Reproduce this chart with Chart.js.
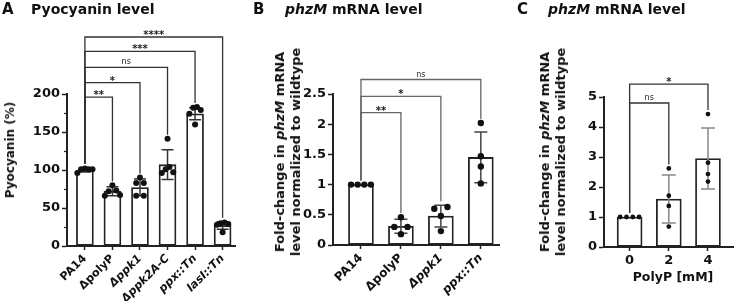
<!DOCTYPE html>
<html>
<head>
<meta charset="utf-8">
<script src="https://cdn.jsdelivr.net/npm/chart.js@4.4.0/dist/chart.umd.min.js"></script>
<style>
    html, body { margin: 0; padding: 0; background: #fff; }
    #wrap { position: relative; width: 736px; height: 301px; overflow: hidden; font-family: 'DejaVu Sans', sans-serif; color: #111; }
    canvas { position: absolute; top: 0; }
    .ttl { position: absolute; top: 1px; font-weight: bold; font-size: 14px; line-height: 16px; white-space: nowrap; }
    .letter { font-size: 15px; }
    .ylab { position: absolute; font-weight: bold; font-size: 13px; line-height: 16px; white-space: nowrap; text-align: center; transform: translate(-50%, -50%) rotate(-90deg); }
    .xlab { position: absolute; font-weight: bold; font-size: 12.5px; line-height: 16px; white-space: nowrap; transform: translate(-50%, -50%); }
</style>
</head>
<body>
<div id="wrap">
    <canvas id="chartA" width="245" height="301" style="left:0px"></canvas>
    <canvas id="chartB" width="258" height="301" style="left:245px"></canvas>
    <canvas id="chartC" width="233" height="301" style="left:503px"></canvas>

    <div class="ttl letter" style="left:2px">A</div>
    <div class="ttl" style="left:31px">Pyocyanin level</div>
    <div class="ttl letter" style="left:253px">B</div>
    <div class="ttl" style="left:285px"><i>phzM</i> mRNA level</div>
    <div class="ttl letter" style="left:517px">C</div>
    <div class="ttl" style="left:548px"><i>phzM</i> mRNA level</div>

    <div class="ylab" style="left:10px; top:150px; font-size:12px">Pyocyanin (%)</div>
    <div class="ylab" style="left:288px; top:152px">Fold-change in <i>phzM</i> mRNA<br>level normalized to wildtype</div>
    <div class="ylab" style="left:553px; top:152px">Fold-change in <i>phzM</i> mRNA<br>level normalized to wildtype</div>
    <div class="xlab" style="left:673px; top:277px">PolyP [mM]</div>
</div>

<script>
const FONT = "'DejaVu Sans', sans-serif";

// Panel A - pyocyanin (%)
const pyoLabels = ['PA14', '\u0394polyP', '\u0394ppk1', '\u0394ppk2A-C', 'ppx::Tn', 'lasI::Tn'];
const pyoMeans = [100, 72, 77, 107, 174, 27];
const pyoSD = [2.5, 6, 11, 19.5, 8, 5];
const pyoPoints = [
    [101, 102, 101, 101, 96],
    [80, 73, 72, 67, 66],
    [90, 83, 83, 66, 66],
    [141, 104, 101, 97, 96],
    [183, 182, 179, 174, 160],
    [31, 30, 29, 28, 18]
];
const pyoTicks = [0, 50, 100, 150, 200];
const pyoMinor = [25, 75, 125, 175];
const pyoSig = [
    { from: 0, to: 1, level: 196, text: '**' },
    { from: 0, to: 2, level: 215, text: '*' },
    { from: 0, to: 3, level: 235, text: 'ns' },
    { from: 0, to: 4, level: 256, text: '***' },
    { from: 0, to: 5, level: 275, text: '****' }
];

// Panel B - phzM mRNA, mutants
const mutLabels = ['PA14', '\u0394polyP', '\u0394ppk1', 'ppx::Tn'];
const mutMeans = [1, 0.31, 0.48, 1.45];
const mutSD = [0, 0.115, 0.18, 0.42];
const mutPoints = [
    [1, 1, 1, 1],
    [0.46, 0.30, 0.30, 0.18],
    [0.63, 0.60, 0.48, 0.23],
    [2.02, 1.47, 1.30, 1.02]
];
const mutTicks = [0, 0.5, 1, 1.5, 2, 2.5];
const mutSig = [
    { from: 0, to: 1, level: 2.19, text: '**' },
    { from: 0, to: 2, level: 2.46, text: '*' },
    { from: 0, to: 3, level: 2.74, text: 'ns' }
];

// Panel C - phzM mRNA vs polyP dose
const doseLabels = ['0', '2', '4'];
const doseMeans = [1, 1.6, 2.95];
const doseSD = [0, 0.8, 1.02];
const dosePoints = [
    [1, 1, 1, 1],
    [2.62, 1.71, 1.37, 0.68],
    [4.43, 2.81, 2.43, 2.18]
];
const doseTicks = [0, 1, 2, 3, 4, 5];
const doseSig = [
    { from: 0, to: 1, level: 4.8, text: 'ns' },
    { from: 0, to: 2, level: 5.43, text: '*' }
];

// spread dots sitting at about the same height side by side (center first, then outwards)
function swarm(chart, dsIndex, gap, hit) {
    const meta = chart.getDatasetMeta(dsIndex);
    const src = chart.data.datasets[dsIndex].data;
    const groups = new Map();
    meta.data.forEach((pt, i) => {
        const g = src[i].x;
        if (!groups.has(g)) groups.set(g, []);
        groups.get(g).push(pt);
    });
    groups.forEach(pts => {
        pts.sort((a, b) => a.y - b.y);
        let row = [pts[0]];
        const rows = [row];
        for (let k = 1; k < pts.length; k++) {
            if (pts[k].y - pts[k - 1].y < hit) row.push(pts[k]);
            else { row = [pts[k]]; rows.push(row); }
        }
        rows.forEach(r => {
            const n = r.length;
            let slots = n === 2 ? [-1, 1] : r.map((_, k) => k - (n - 1) / 2);
            slots = slots.slice().sort((a, b) => Math.abs(a) - Math.abs(b) || b - a);
            r.forEach((pt, k) => { pt.x += slots[k] * gap; });
        });
    });
}

function drawErrors(chart, p) {
    const { ctx, scales: { x, y } } = chart;
    ctx.save();
    ctx.strokeStyle = p.errColor;
    ctx.lineWidth = 1.5;
    p.means.forEach((m, i) => {
        const sd = p.sd[i];
        if (!sd) return;
        const cx = x.getPixelForValue(i);
        const y1 = y.getPixelForValue(m - sd), y2 = y.getPixelForValue(m + sd);
        ctx.beginPath();
        ctx.moveTo(cx, y1); ctx.lineTo(cx, y2);
        ctx.moveTo(cx - p.cap / 2, y1); ctx.lineTo(cx + p.cap / 2, y1);
        ctx.moveTo(cx - p.cap / 2, y2); ctx.lineTo(cx + p.cap / 2, y2);
        ctx.stroke();
    });
    ctx.restore();
}

function groupTop(p, i) {
    return Math.max(...p.points[i], p.means[i] + p.sd[i]);
}

function drawBrackets(chart, p) {
    const { ctx, scales: { x, y } } = chart;
    ctx.save();
    ctx.strokeStyle = p.sigColor;
    ctx.lineWidth = 1.3;
    ctx.fillStyle = '#222';
    ctx.textAlign = 'center';
    p.sig.forEach(b => {
        const x1 = x.getPixelForValue(b.from), x2 = x.getPixelForValue(b.to);
        const yl = y.getPixelForValue(b.level);
        const y1 = y.getPixelForValue(groupTop(p, b.from)) - 4;
        const y2 = y.getPixelForValue(groupTop(p, b.to)) - 4;
        ctx.beginPath();
        ctx.moveTo(x1, y1); ctx.lineTo(x1, yl); ctx.lineTo(x2, yl); ctx.lineTo(x2, y2);
        ctx.stroke();
        const ns = b.text === 'ns';
        ctx.font = ns ? `8px ${FONT}` : `bold 10px ${FONT}`;
        ctx.fillText(b.text, (x1 + x2) / 2, ns ? yl - 3 : yl + 1);
    });
    ctx.restore();
}

function drawMinor(chart, p) {
    if (!p.minor) return;
    const { ctx, chartArea, scales: { y } } = chart;
    ctx.save();
    ctx.strokeStyle = '#222';
    ctx.lineWidth = 1.2;
    p.minor.forEach(v => {
        const py = Math.round(y.getPixelForValue(v)) + 0.5;
        ctx.beginPath();
        ctx.moveTo(chartArea.left - 3, py); ctx.lineTo(chartArea.left, py);
        ctx.stroke();
    });
    ctx.restore();
}

function makePanel(id, p) {
    const pointData = [];
    p.points.forEach((grp, i) => grp.forEach(v => pointData.push({ x: i, y: v })));

    const extras = {
        id: 'extras',
        afterDatasetsUpdate(chart) { swarm(chart, 1, p.dotGap, p.dotHit); },
        afterDatasetDraw(chart, args) { if (args.index === 0) drawErrors(chart, p); },
        afterDraw(chart) { drawMinor(chart, p); drawBrackets(chart, p); }
    };

    return new Chart(document.getElementById(id), {
        type: 'bar',
        data: {
            datasets: [
                {
                    type: 'bar',
                    data: p.means.map((m, i) => ({ x: i, y: m })),
                    backgroundColor: '#fff',
                    borderColor: '#222',
                    borderWidth: 1.8,
                    borderSkipped: false,
                    barThickness: p.barW,
                    order: 2
                },
                {
                    type: 'line',
                    data: pointData,
                    showLine: false,
                    pointRadius: p.dotR,
                    pointHoverRadius: p.dotR,
                    pointBackgroundColor: '#111',
                    pointBorderWidth: 0,
                    order: 1
                }
            ]
        },
        options: {
            responsive: false,
            animation: false,
            events: [],
            layout: { padding: { top: p.top, right: p.padRight, left: 0, bottom: 0 } },
            plugins: { legend: { display: false }, tooltip: { enabled: false } },
            scales: {
                x: {
                    type: 'linear',
                    min: p.xMin,
                    max: p.xMax,
                    offset: false,
                    afterBuildTicks: s => { s.ticks = p.labels.map((_, i) => ({ value: i })); },
                    afterFit: s => { s.height = p.xHeight; s.paddingLeft = 0; s.paddingRight = 0; },
                    grid: { display: true, offset: false, drawOnChartArea: false, drawTicks: true, tickLength: 4, tickColor: '#222', tickWidth: 1.5 },
                    border: { display: true, color: '#222', width: 2 },
                    ticks: {
                        autoSkip: false,
                        maxRotation: p.rot,
                        minRotation: p.rot,
                        padding: 2,
                        color: '#111',
                        callback: v => p.labels[v],
                        font: ctx => ({ family: FONT, size: p.xFont, weight: 'bold', style: p.italic.includes(ctx.index) ? 'italic' : 'normal' })
                    }
                },
                y: {
                    min: 0,
                    max: p.yMax,
                    afterBuildTicks: s => { s.ticks = p.yTicks.map(v => ({ value: v })); },
                    afterFit: s => { s.width = p.yWidth; s.paddingTop = 0; s.paddingBottom = 0; },
                    grid: { display: true, drawOnChartArea: false, drawTicks: true, tickLength: 5, tickColor: '#222', tickWidth: 1.5 },
                    border: { display: true, color: '#222', width: 2 },
                    ticks: {
                        padding: 2,
                        color: '#111',
                        callback: v => String(v),
                        font: { family: FONT, size: 13, weight: 'bold' }
                    }
                }
            }
        },
        plugins: [extras]
    });
}

makePanel('chartA', {
    labels: pyoLabels, means: pyoMeans, sd: pyoSD, points: pyoPoints,
    yTicks: pyoTicks, minor: pyoMinor, sig: pyoSig, yMax: 200,
    italic: [2, 3, 4, 5], rot: 45, xFont: 11.3,
    xMin: -0.65, xMax: 5.45, top: 94, padRight: 10, yWidth: 67, xHeight: 55,
    barW: 17, cap: 12, dotR: 3, dotGap: 3.8, dotHit: 5.5,
    errColor: '#333', sigColor: '#333'
});

makePanel('chartB', {
    labels: mutLabels, means: mutMeans, sd: mutSD, points: mutPoints,
    yTicks: mutTicks, sig: mutSig, yMax: 2.5,
    italic: [2, 3], rot: 45, xFont: 12,
    xMin: -0.7, xMax: 3.475, top: 94, padRight: 3, yWidth: 88, xHeight: 56,
    barW: 25, cap: 13, dotR: 3.2, dotGap: 6.6, dotHit: 6.5,
    errColor: '#444', sigColor: '#666'
});

makePanel('chartC', {
    labels: doseLabels, means: doseMeans, sd: doseSD, points: dosePoints,
    yTicks: doseTicks, sig: doseSig, yMax: 5,
    italic: [], rot: 0, xFont: 13,
    xMin: -0.654, xMax: 2.654, top: 97, padRight: 1, yWidth: 101, xHeight: 54,
    barW: 25, cap: 14, dotR: 2.4, dotGap: 6.3, dotHit: 4.8,
    errColor: '#888', sigColor: '#333'
});
</script>
</body>
</html>
